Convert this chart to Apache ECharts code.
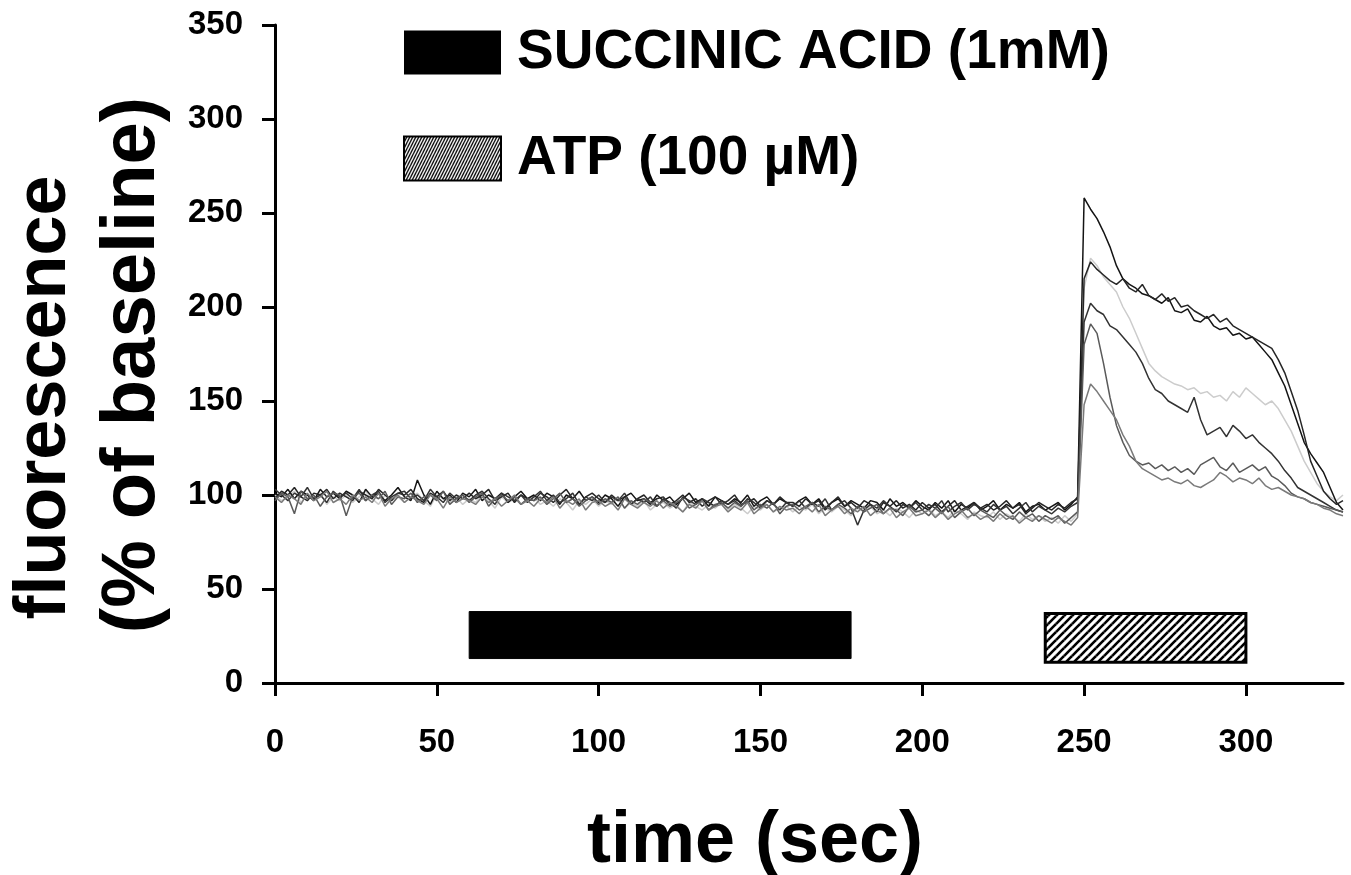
<!DOCTYPE html>
<html>
<head>
<meta charset="utf-8">
<script src="https://cdn.jsdelivr.net/npm/echarts@6/dist/echarts.min.js"></script>
<style>
html,body{margin:0;padding:0;background:#fff;}
#chart{width:1351px;height:875px;}
</style>
</head>
<body>
<div id="chart"></div>
<script>
// ---- data ----
const sampleStep = 2; // seconds between samples (t = 0 ... 330)
const xTicks = [0, 50, 100, 150, 200, 250, 300];
const yTicks = [0, 50, 100, 150, 200, 250, 300, 350];

const traceA = [
101,99,103,98,102,100,97,103,99,101,
98,102,100,96,103,99,101,97,100,104,
99,97,108,100,95,102,98,100,96,101,
99,103,97,100,98,101,96,99,102,98,
100,97,101,99,95,100,98,102,97,99,
96,100,98,94,99,101,97,98,95,100,
97,99,95,98,101,96,98,94,99,97,
95,98,96,100,94,97,99,95,98,96,
94,97,99,95,98,93,96,98,94,97,
95,93,97,96,92,98,94,96,93,97,
94,92,96,93,97,91,95,93,96,92,
94,97,92,95,93,96,91,94,95,92,
94,96,92,95,99,
258,252,247,240,232,222,215,212,210,207,
206,204,202,205,198,197,199,193,192,195,
190,188,189,185,186,183,184,180,176,172,
165,158,148,138,128,122,117,112,104,96,
92];

const traceB = [
98,102,100,104,99,97,101,100,103,98,
101,99,97,102,100,98,103,100,97,101,
100,103,98,96,101,99,102,97,100,98,
101,98,100,103,97,99,101,96,100,98,
97,101,99,96,100,103,98,95,99,101,
98,96,100,97,99,95,98,100,96,98,
99,95,97,100,96,98,94,97,99,95,
97,100,95,96,98,94,97,95,99,96,
96,94,98,95,97,92,96,99,94,96,
93,97,95,91,96,94,97,93,95,92,
96,93,95,91,94,97,92,94,96,93,
95,92,94,97,93,95,90,93,96,94,
92,95,93,96,98,
215,224,220,217,214,212,215,210,208,212,
206,204,207,203,205,200,201,198,196,194,
196,192,194,190,188,186,184,182,180,178,
172,165,155,145,132,118,110,102,98,95,
97];

const traceC = [
100,97,99,102,96,100,98,101,95,99,
97,100,96,99,102,98,95,100,97,99,
96,99,101,97,94,100,98,96,99,95,
98,96,100,97,93,99,96,98,95,97,
99,95,97,94,98,96,92,97,95,98,
94,97,95,98,93,96,94,97,92,95,
96,93,95,91,96,94,92,95,93,96,
92,95,93,90,94,92,95,91,93,94,
91,94,92,95,90,93,91,94,92,89,
93,91,94,90,92,89,93,91,88,92,
90,93,89,91,88,92,90,87,91,89,
88,91,87,90,88,86,90,87,89,86,
88,85,89,86,90,
210,226,222,216,212,208,200,194,186,178,
170,166,163,161,159,158,156,157,154,155,
152,153,150,155,152,157,154,151,148,150,
146,140,134,126,118,112,106,102,99,97,
100];

const traceD = [
103,100,97,101,99,104,98,100,96,102,
99,101,98,103,97,100,102,96,99,101,
102,98,100,97,103,99,96,101,98,100,
97,100,102,98,95,101,99,97,100,96,
99,102,97,100,96,98,101,95,99,97,
100,96,99,97,101,95,98,96,99,94,
98,96,93,99,97,95,98,96,94,97,
95,97,94,98,96,93,97,95,92,96,
94,97,93,96,94,98,92,95,97,93,
84,92,95,93,97,94,91,95,93,96,
92,95,93,97,91,94,96,92,95,93,
91,95,92,94,90,93,96,91,94,92,
90,93,91,94,96,
192,202,198,196,190,188,184,180,176,170,
162,156,154,150,148,146,144,152,140,132,
134,136,131,137,134,130,132,128,125,122,
118,113,109,104,102,100,98,96,94,92,
91];

const traceE = [
97,101,99,90,102,98,100,94,99,101,
100,89,99,101,97,100,98,102,95,99,
98,101,96,99,100,97,102,95,98,100,
96,99,101,94,98,100,97,99,95,98,
97,99,95,98,101,96,98,94,97,99,
95,98,96,99,93,97,95,98,96,94,
97,94,96,98,93,95,97,92,95,96,
93,96,94,97,92,95,93,96,90,94,
95,92,94,96,91,94,92,95,93,90,
94,91,93,95,90,93,92,89,94,91,
92,89,93,90,94,88,91,93,89,92,
90,88,92,89,87,91,88,90,86,89,
87,89,85,88,91,
180,191,186,170,152,137,128,121,118,116,
117,114,116,113,115,112,114,111,116,118,
120,115,113,117,112,114,116,113,115,110,
108,105,101,99,98,96,95,94,93,92,
91];

const traceF = [
99,96,100,98,95,101,97,99,102,96,
98,95,100,97,99,96,101,94,98,100,
96,99,97,95,100,98,93,99,96,98,
97,95,99,96,98,94,97,100,95,97,
94,98,96,99,93,97,95,98,92,96,
97,94,96,92,98,95,93,96,94,97,
93,96,94,91,95,93,97,92,94,95,
91,94,92,96,90,93,95,91,94,92,
93,90,94,91,95,89,92,94,90,93,
91,94,89,92,90,93,88,91,93,89,
90,92,88,91,87,90,92,88,90,87,
89,86,90,87,89,85,88,86,89,87,
85,88,86,84,88,
148,159,155,150,145,140,132,126,118,114,
112,110,108,109,107,106,108,105,104,106,
108,112,110,107,109,108,106,109,105,103,
104,102,100,99,98,96,95,93,92,90,
89];

const traceNames = ['cell 1','cell 2','cell 3','cell 4','cell 5','cell 6'];
const traceColors = ['#141414','#262626','#cccccc','#333333','#5a5a5a','#7a7a7a'];

// application bars: [start, end, low, high]
const succinicBar = [60, 178, 13, 38];
const atpBar = [238, 300, 11, 37];
const succinicName = 'SUCCINIC ACID (1mM)';
const atpName = 'ATP (100 µM)';

// ---- patterns ----
function makeHatch(w, h, spacing, lw) {
  const c = document.createElement('canvas');
  c.width = w; c.height = h;
  const g = c.getContext('2d');
  g.fillStyle = '#fff'; g.fillRect(0, 0, w, h);
  g.strokeStyle = '#000'; g.lineWidth = lw;
  for (let k = -w; k <= 2 * w; k += spacing) {
    g.beginPath(); g.moveTo(k, 0); g.lineTo(k - w, h); g.stroke();
    g.beginPath(); g.moveTo(k, -h); g.lineTo(k - w, 0); g.stroke();
    g.beginPath(); g.moveTo(k, h); g.lineTo(k - w, 2 * h); g.stroke();
  }
  return c;
}
const barHatch = { image: makeHatch(8, 8, 8, 2.6), repeat: 'repeat' };
const legendHatch = { image: makeHatch(3, 6, 3, 1.3), repeat: 'repeat' };

const FONT = "'Liberation Sans', Arial, Helvetica, sans-serif";

function toPairs(arr) { return arr.map((v, i) => [i * sampleStep, v]); }

function barRenderer(fill, stroke, lw) {
  return function (params, api) {
    const p0 = api.coord([api.value(0), api.value(3)]);
    const p1 = api.coord([api.value(1), api.value(2)]);
    return {
      type: 'rect',
      shape: { x: p0[0], y: p0[1], width: p1[0] - p0[0], height: p1[1] - p0[1] },
      style: { fill: fill, stroke: stroke, lineWidth: lw }
    };
  };
}

const traces = [traceA, traceB, traceC, traceD, traceE, traceF];
const lineSeries = traces.map((t, i) => ({
  name: traceNames[i],
  type: 'line',
  data: toPairs(t),
  showSymbol: false,
  symbol: 'none',
  lineStyle: { color: traceColors[i], width: 1.5 },
  itemStyle: { color: traceColors[i] },
  z: i === 2 ? 2 : 3,
  silent: true
}));

const chart = echarts.init(document.getElementById('chart'), null, { renderer: 'canvas' });
chart.setOption({
  animation: false,
  backgroundColor: '#fff',
  grid: { left: 275, right: 8, top: 25, bottom: 192, containLabel: false, outerBoundsMode: 'none' },
  legend: {
    left: 398, top: 20, orient: 'vertical', itemWidth: 97, itemHeight: 44, itemGap: 51,
    selectedMode: false,
    textStyle: { fontFamily: FONT, fontWeight: 'bold', fontSize: 55, color: '#000', padding: [0, 0, 0, 11] },
    data: [
      { name: succinicName, icon: 'rect', itemStyle: { color: '#000', borderColor: '#000', borderWidth: 0 } },
      { name: atpName, icon: 'rect', itemStyle: { color: legendHatch, borderColor: '#000', borderWidth: 2 } }
    ]
  },
  xAxis: {
    type: 'value', min: 0, max: 330, interval: 50,
    name: 'time (sec)', nameLocation: 'middle', nameGap: 123,
    nameTextStyle: { fontFamily: FONT, fontWeight: 'bold', fontSize: 72, color: '#000', lineHeight: 72, padding: [0, 108, 0, 0] },
    axisLine: { show: true, onZero: false, lineStyle: { color: '#000', width: 3 } },
    axisTick: { show: true, length: 13, lineStyle: { color: '#000', width: 3 }, customValues: xTicks },
    axisLabel: { fontFamily: FONT, fontWeight: 'bold', fontSize: 33, color: '#000', margin: 43, customValues: xTicks },
    splitLine: { show: false }
  },
  yAxis: {
    type: 'value', min: 0, max: 350, interval: 50,
    name: '{a|fluorescence}\n{b|(% of baseline)}', nameLocation: 'middle', nameGap: 97,
    nameTextStyle: {
      fontFamily: FONT, fontWeight: 'bold', fontSize: 72, color: '#000', lineHeight: 88,
      rich: {
        a: { fontFamily: FONT, fontWeight: 'bold', fontSize: 72, color: '#000', lineHeight: 88, align: 'center', padding: [0, 87, 0, 0] },
        b: { fontFamily: FONT, fontWeight: 'bold', fontSize: 76, color: '#000', lineHeight: 88, align: 'center', padding: [0, 22, 0, 0] }
      }
    },
    axisLine: { show: true, lineStyle: { color: '#000', width: 3 } },
    axisTick: { show: true, length: 13, lineStyle: { color: '#000', width: 3 }, customValues: yTicks },
    axisLabel: { fontFamily: FONT, fontWeight: 'bold', fontSize: 33, color: '#000', margin: 32, customValues: yTicks },
    splitLine: { show: false }
  },
  series: [
    {
      name: succinicName, type: 'custom', data: [succinicBar],
      encode: { x: [0, 1], y: [2, 3] },
      renderItem: barRenderer('#000', '#000', 1),
      itemStyle: { color: '#000' }, silent: true, z: 1
    },
    {
      name: atpName, type: 'custom', data: [atpBar],
      encode: { x: [0, 1], y: [2, 3] },
      renderItem: barRenderer(barHatch, '#000', 3),
      itemStyle: { color: '#000' }, silent: true, z: 1
    }
  ].concat(lineSeries)
});
</script>
</body>
</html>
